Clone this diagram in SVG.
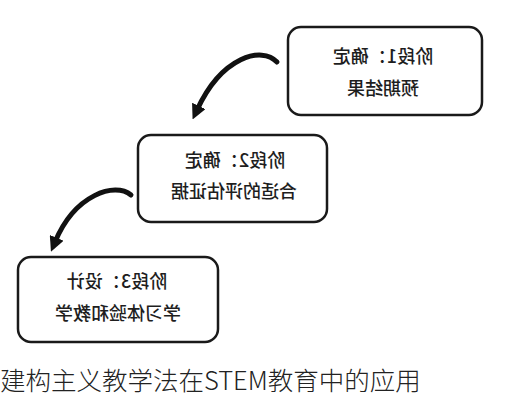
<svg xmlns="http://www.w3.org/2000/svg" width="506" height="400" viewBox="0 0 506 400">
<style>
.box{fill:#fff;stroke:#1a1a1a;stroke-width:2.5}
.t{font-family:"Noto Sans CJK SC","Noto Sans",sans-serif;font-size:18px;fill:#1e1e1e;text-anchor:middle;font-weight:500}
.arr{fill:none;stroke:#111;stroke-width:5;stroke-linecap:round}
.cap{font-family:"Noto Sans CJK SC","Noto Sans",sans-serif;font-size:25.5px;font-weight:300;fill:#222}
</style>
<defs>
<marker id="ah" viewBox="0 0 10 10" refX="3" refY="5" markerWidth="3" markerHeight="3" orient="auto" markerUnits="strokeWidth">
<path d="M0,0 L10,5 L0,10 z" fill="#111"/>
</marker>
</defs>
<rect width="506" height="400" fill="#fff"/>
<g id="stage1">
<rect class="box" x="288" y="27" width="194" height="88" rx="13"/>
<text class="t" x="-383" y="63" transform="scale(-1,1)">阶段1：确定</text>
<text class="t" x="-383" y="95" transform="scale(-1,1)">预期结果</text>
</g>
<g id="stage2">
<rect class="box" x="138" y="135" width="189" height="87" rx="13"/>
<text class="t" x="-235" y="167" transform="scale(-1,1)">阶段2：确定</text>
<text class="t" x="-234" y="198" transform="scale(-1,1)">合适的评估证据</text>
</g>
<g id="stage3">
<rect class="box" x="18" y="257" width="200" height="85" rx="13"/>
<text class="t" x="-117" y="288" transform="scale(-1,1)">阶段3：设计</text>
<text class="t" x="-118" y="320" transform="scale(-1,1)">学习体验和教学</text>
</g>
<g id="connectors">
<path class="arr" d="M277 62 C262 46 222 56 197 110" marker-end="url(#ah)"/>
<path class="arr" d="M131 195 C115 182 75 194 55 242" marker-end="url(#ah)"/>
</g>
<text class="cap" x="0" y="390">建构主义教学法在STEM教育中的应用</text>
</svg>
